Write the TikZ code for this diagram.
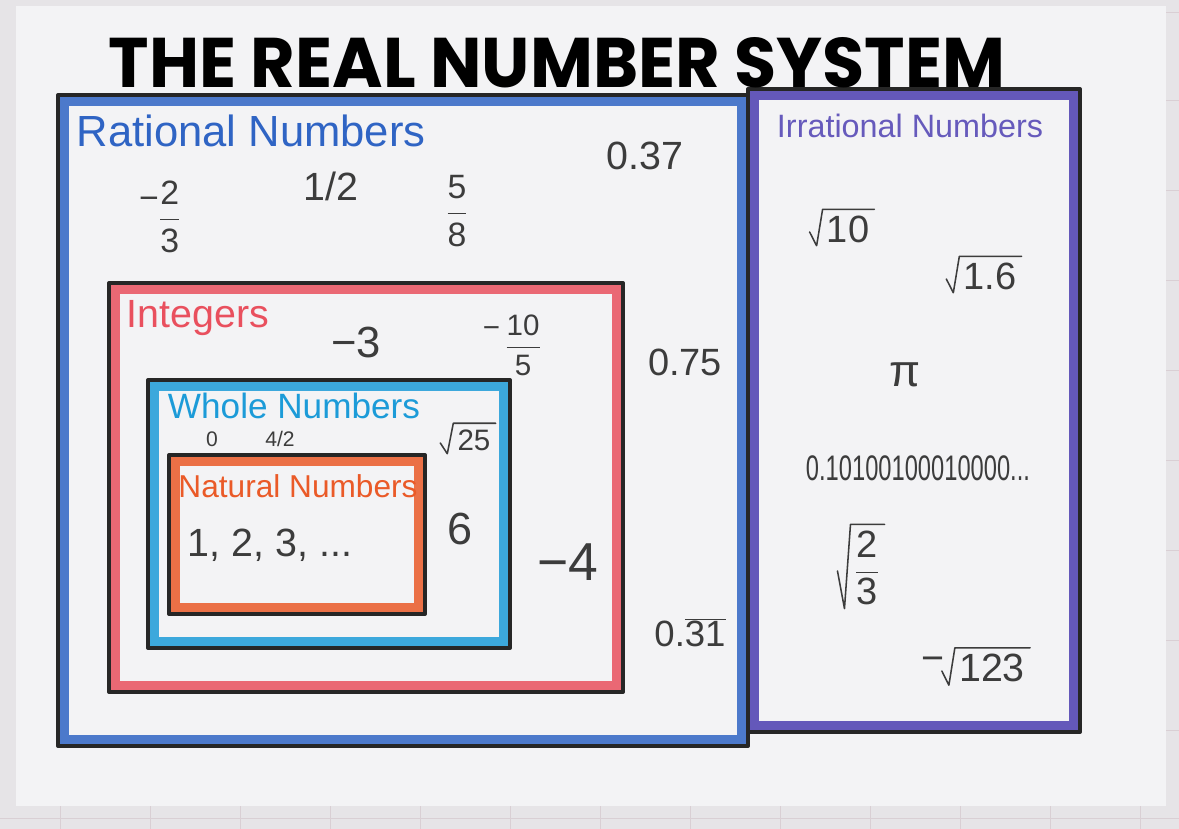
\documentclass[tikz,border=0pt]{standalone}
\usepackage{fontspec}
\usetikzlibrary{calc}
\setmainfont{Liberation Sans}
\newfontfamily\titlefont{Poppins}
\newcommand\txsize[1]{\fontsize{#1}{#1}\selectfont}
\newcommand\hfrac[2]{$\displaystyle\frac{\mbox{#1}}{\mbox{#2}}$}
\newcommand\rad[1]{\draw[radline] ($(#1.west)+(-17,3)$) -- ($(#1.south west)+(-10,3)$) -- ($(#1.north west)+(-4,-6)$) -- ($(#1.north east)+(5,-6)$);}
\definecolor{paper}{HTML}{F3F3F5}
\definecolor{desk}{HTML}{E6E4E7}
\definecolor{gridc}{HTML}{D9CFD4}
\definecolor{ink}{HTML}{3C3C3C}
\definecolor{ratc}{HTML}{2F64C4}
\definecolor{irrc}{HTML}{4B3DB0}
\definecolor{intc}{HTML}{E9505E}
\definecolor{whc}{HTML}{1C9BD8}
\definecolor{natc}{HTML}{EA5A28}
\tikzset{
  outline/.style={draw=black!85, line width=2.9pt, line join=round},
  band/.style={line width=7pt, opacity=0.85},
  lbl/.style={inner sep=0pt},
  num/.style={inner sep=0pt, text=ink},
  radline/.style={draw=ink, line width=1.1pt, line join=round, line cap=round},
}
\begin{document}
\begin{tikzpicture}[x=0.025cm,y=-0.025cm]
\useasboundingbox (0,0) rectangle (1179,829);
% desk / notebook
\fill[desk] (0,0) rectangle (1179,829);
\foreach \yy in {12,100,190,280,370,460,550,640,730} \draw[gridc, line width=0.6pt] (1166,\yy) -- (1179,\yy);
\foreach \xx in {60,150,240,330,420,510,600,690,780,870,960,1050,1140} \draw[gridc, line width=0.6pt] (\xx,806) -- (\xx,829);
\draw[gridc, line width=0.6pt] (0,818) -- (1179,818);
% paper
\fill[paper] (16,6) rectangle (1166,806);
% crayon bands
\draw[band, ratc] (64,101) rectangle (742,740);
\draw[band, irrc] (754,95) rectangle (1074,726);
\draw[band, intc] (115,289) rectangle (617,686);
\draw[band, whc] (154,386) rectangle (504,642);
\draw[band, natc] (175,461) rectangle (419,608);
% black outlines
\draw[outline] (58,95) rectangle (748,746);
\draw[outline] (748,89) rectangle (1080,732);
\draw[outline] (109,283) rectangle (623,692);
\draw[outline] (148,380) rectangle (510,648);
\draw[outline] (169,455) rectangle (425,614);
% title
\node[lbl, anchor=south] (title) at (557,88) {\resizebox{22.4cm}{1.25cm}{\titlefont\bfseries THE REAL NUMBER SYSTEM}};
% labels
\node[lbl, text=ratc, font=\txsize{31}] (ratlbl) at (251,131) {Rational Numbers};
\node[lbl, text=irrc!85, font=\txsize{23}] (irrlbl) at (910,126) {Irrational Numbers};
\node[lbl, text=intc, font=\txsize{28}] (intlbl) at (198,318) {Integers};
\node[lbl, text=whc, font=\txsize{25}] (whlbl) at (294,406) {Whole Numbers};
\node[lbl, text=natc, font=\txsize{22.5}] (natlbl) at (298,486) {Natural Numbers};
% rational numbers
\node[num, font=\txsize{24}] (m23) at (160,217) {\raisebox{0.55em}{−}\hfrac{2}{3}};
\node[num, font=\txsize{28}] (half) at (331,186) {1/2};
\node[num, font=\txsize{24}] (f58) at (457,211) {\hfrac{5}{8}};
\node[num, font=\txsize{28}] (d37) at (645,156) {0.37};
\node[num, font=\txsize{27}] (d75) at (685,362) {0.75};
\node[num, font=\txsize{26}] (d31) at (690,633) {0.$\overline{\mbox{31}}$};
% integers
\node[num, font=\txsize{31}] (m3) at (356,342) {−3};
\node[num, font=\txsize{21}] (m105) at (512,345) {\raisebox{0.6em}{−}\,\hfrac{10}{5}};
\node[num, font=\txsize{38}] (m4) at (568,562) {−4};
% whole numbers
\node[num, font=\txsize{15}] (zero) at (212,439) {0};
\node[num, font=\txsize{15}] (fourhalf) at (280,439) {4/2};
\node[num, font=\txsize{21}] (r25) at (474,440) {25};
\rad{r25}
\node[num, font=\txsize{32}] (six) at (460,529) {6};
% natural numbers
\node[num, font=\txsize{28}] (nat) at (270,545) {1, 2, 3, ...};
% irrational numbers
\node[num, font=\txsize{27}] (r10) at (848,229) {10};
\rad{r10}
\node[num, font=\txsize{27}] (r16) at (990,276) {1.6};
\rad{r16}
\node[num, font=\txsize{32}] (pi) at (905,375) {π};
\node[num] (nonrep) at (918,468) {\resizebox{5.6cm}{0.62cm}{0.10100100010000...}};
\node[num, font=\txsize{27}] (r23) at (867,568) {\hfrac{2}{3}};
\rad{r23}
\node[num, font=\txsize{28}] (m123) at (933,664) {−};
\node[num, font=\txsize{28}] (r123) at (992,668) {123};
\rad{r123}
\end{tikzpicture}
\end{document}
